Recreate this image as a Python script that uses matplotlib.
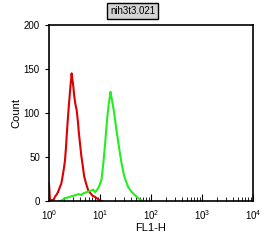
import matplotlib.pyplot as plt

plt.rcParams['font.family'] = ['Liberation Sans', 'DejaVu Sans']

# red histogram (control)
red_x = [1.0, 1.02, 1.04, 1.08, 1.15, 1.25, 1.31, 1.4, 1.5, 1.64, 1.75, 1.85, 1.95,
         2.06, 2.15, 2.25, 2.35, 2.45, 2.55, 2.65, 2.72, 2.78, 2.85, 2.95, 3.05, 3.15,
         3.3, 3.5, 3.7, 3.85, 4.05, 4.3, 4.6, 4.9, 5.4, 5.9, 6.5, 7.2, 7.9, 8.8, 9.8, 11.0]
red_y = [20, 12, 3, 1, 1, 2, 5, 7, 10, 16, 20, 28, 36,
         46, 60, 78, 94, 108, 120, 132, 138, 145, 140, 134, 126, 118,
         110, 103, 90, 78, 66, 52, 40, 28, 19, 12, 9, 6, 5, 3, 1, 0]

# green histogram (stained)
green_x = [1.64, 1.8, 2.0, 2.3, 2.6, 3.0, 3.4, 3.8, 4.3, 4.8, 5.4, 6.0, 6.7, 7.4, 8.0, 8.6, 9.5, 10.7,
           11.5, 12.5, 13.3, 14.2, 15.0, 15.6, 16.1, 16.8, 17.8, 19.0, 21.0, 23.5, 26.5,
           30.0, 35.7, 41.0, 48.0, 57.0, 69.0]
green_y = [0, 1, 3, 4, 5, 6, 7, 8, 7, 9, 10, 11, 12, 13, 10, 12, 16, 24,
           40, 62, 82, 100, 112, 118, 124, 118, 110, 100, 81, 62, 43,
           28, 16, 11, 7, 3, 0]

fig = plt.figure(figsize=(2.72, 2.42), dpi=100)
ax = fig.add_axes([0.180, 0.169, 0.750, 0.728])

ax.plot(red_x, red_y, color="#dd0000", linewidth=1.5)
ax.plot(green_x, green_y, color="#22ee22", linewidth=1.5)

ax.set_xscale("log")
ax.set_xlim(1, 1e4)
ax.set_ylim(0, 200)
ax.set_yticks([0, 50, 100, 150, 200])
ax.set_xticks([1, 10, 100, 1000, 10000])
ax.tick_params(axis="x", which="both", direction="in", labelsize=7, pad=5)
ax.tick_params(axis="x", which="major", length=5)
ax.tick_params(axis="x", which="minor", length=3)
ax.tick_params(axis="y", direction="out", length=3, labelsize=7)
for s in ax.spines.values():
    s.set_linewidth(1.2)

ax.set_xlabel("FL1-H", fontsize=8, labelpad=1)
ax.set_ylabel("Count", fontsize=8, labelpad=2)

fig.text(0.488, 0.955, "nih3t3.021", fontsize=7, ha="center", va="center",
         bbox=dict(boxstyle="square,pad=0.3", facecolor="#d4d4d4", edgecolor="black", linewidth=1))

fig.savefig("out.png", dpi=100)
